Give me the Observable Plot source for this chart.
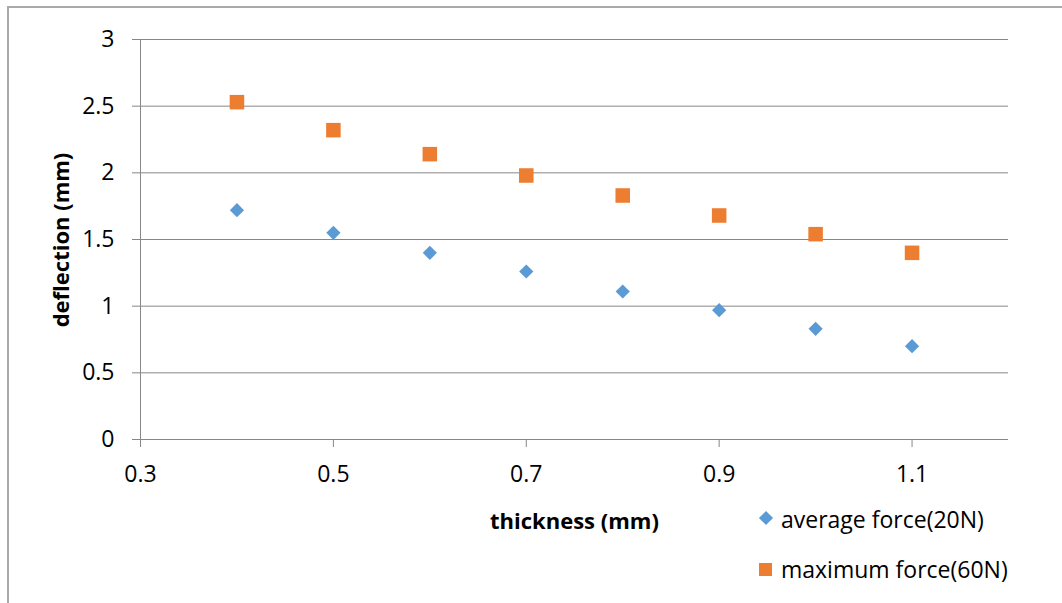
<!DOCTYPE html>
<html>
<head>
<meta charset="utf-8">
<script src="https://cdn.jsdelivr.net/npm/d3@7"></script>
<script src="https://cdn.jsdelivr.net/npm/@observablehq/plot@0.6"></script>
<style>
  html, body { margin: 0; padding: 0; background: #fff; }
  #chart { position: relative; width: 1062px; height: 603px; overflow: hidden; font-family: "Open Sans", sans-serif; color: #000; }
  #frame { position: absolute; left: 7px; top: 6px; right: -10px; bottom: -10px; border-left: 2px solid #a9a9a9; border-top: 2px solid #a9a9a9; }
  .lbl { position: absolute; white-space: nowrap; line-height: 1; }
  .bold { font-weight: 700; font-size: 22px; }
  .leg { font-size: 23px; }
  .sym { position: absolute; }
</style>
</head>
<body>
<div id="chart"><div id="frame"></div></div>
<script>
// Plate thickness (mm) against deflection (mm) for two load cases
const thickness = [0.4, 0.5, 0.6, 0.7, 0.8, 0.9, 1.0, 1.1];
const averageForce = [1.72, 1.55, 1.40, 1.26, 1.11, 0.97, 0.83, 0.70];   // 20 N
const maximumForce = [2.53, 2.32, 2.14, 1.98, 1.83, 1.68, 1.54, 1.40];   // 60 N

const seriesNames = ["average force(20N)", "maximum force(60N)"];
const seriesColors = ["#5B9BD5", "#ED7D31"];

const xTicks = [0.3, 0.5, 0.7, 0.9, 1.1];
const xTickLabels = ["0.3", "0.5", "0.7", "0.9", "1.1"];
const yTicks = [0, 0.5, 1, 1.5, 2, 2.5, 3];
const yTickLabels = ["0", "0.5", "1", "1.5", "2", "2.5", "3"];

const xTitle = "thickness (mm)";
const yTitle = "deflection (mm)";

const avgRows = thickness.map((t, i) => ({thickness: t, deflection: averageForce[i]}));
const maxRows = thickness.map((t, i) => ({thickness: t, deflection: maximumForce[i]}));

const gridColor = "#878787";

const plot = Plot.plot({
  width: 1062,
  height: 603,
  marginLeft: 140,
  marginRight: 54,
  marginTop: 39,
  marginBottom: 164,
  style: {fontFamily: "'Open Sans', sans-serif", fontSize: "23px", color: "#000", background: "transparent"},
  x: {domain: [0.3, 1.2]},
  y: {domain: [0, 3]},
  marks: [
    Plot.gridY(yTicks, {stroke: gridColor, strokeOpacity: 1, strokeWidth: 1}),
    Plot.ruleX([0.3], {stroke: gridColor, strokeWidth: 1}),
    Plot.ruleY([0], {stroke: gridColor, strokeWidth: 1}),
    Plot.axisY(yTicks, {
      tickSize: 8, tickPadding: 18, stroke: gridColor, fill: "#000", label: null,
      tickFormat: d => yTickLabels[yTicks.indexOf(d)]
    }),
    Plot.axisX(xTicks, {
      tickSize: 8, tickPadding: 18, stroke: gridColor, fill: "#000", label: null,
      tickFormat: d => xTickLabels[xTicks.indexOf(d)]
    }),
    Plot.dot(avgRows, {x: "thickness", y: "deflection", symbol: "diamond2", r: 6.4, fill: seriesColors[0], stroke: null}),
    Plot.dot(maxRows, {x: "thickness", y: "deflection", symbol: "square", r: 8.2, fill: seriesColors[1], stroke: null})
  ]
});
plot.style.position = "absolute";
plot.style.left = "0px";
plot.style.top = "0px";

const chart = document.getElementById("chart");
chart.appendChild(plot);

// Axis titles
const xt = document.createElement("div");
xt.className = "lbl bold";
xt.textContent = xTitle;
xt.style.left = "490px";
xt.style.top = "509px";
chart.appendChild(xt);

const yt = document.createElement("div");
yt.className = "lbl bold";
yt.textContent = yTitle;
yt.style.left = "60px";
yt.style.top = "240px";
yt.style.transform = "translate(-50%, -50%) rotate(-90deg)";
chart.appendChild(yt);

// Legend, stacked to the right of the x title
const legendTops = [508, 558];
seriesNames.forEach((name, i) => {
  const s = document.createElement("div");
  s.className = "sym";
  s.style.background = seriesColors[i];
  if (i === 0) {
    s.style.width = "10px"; s.style.height = "10px";
    s.style.left = "761px"; s.style.top = "513px";
    s.style.transform = "rotate(45deg)";
  } else {
    s.style.width = "13px"; s.style.height = "13px";
    s.style.left = "759px"; s.style.top = "563px";
  }
  chart.appendChild(s);
  const t = document.createElement("div");
  t.className = "lbl leg";
  t.textContent = name;
  t.style.left = "781px";
  t.style.top = legendTops[i] + "px";
  chart.appendChild(t);
});
</script>
</body>
</html>
